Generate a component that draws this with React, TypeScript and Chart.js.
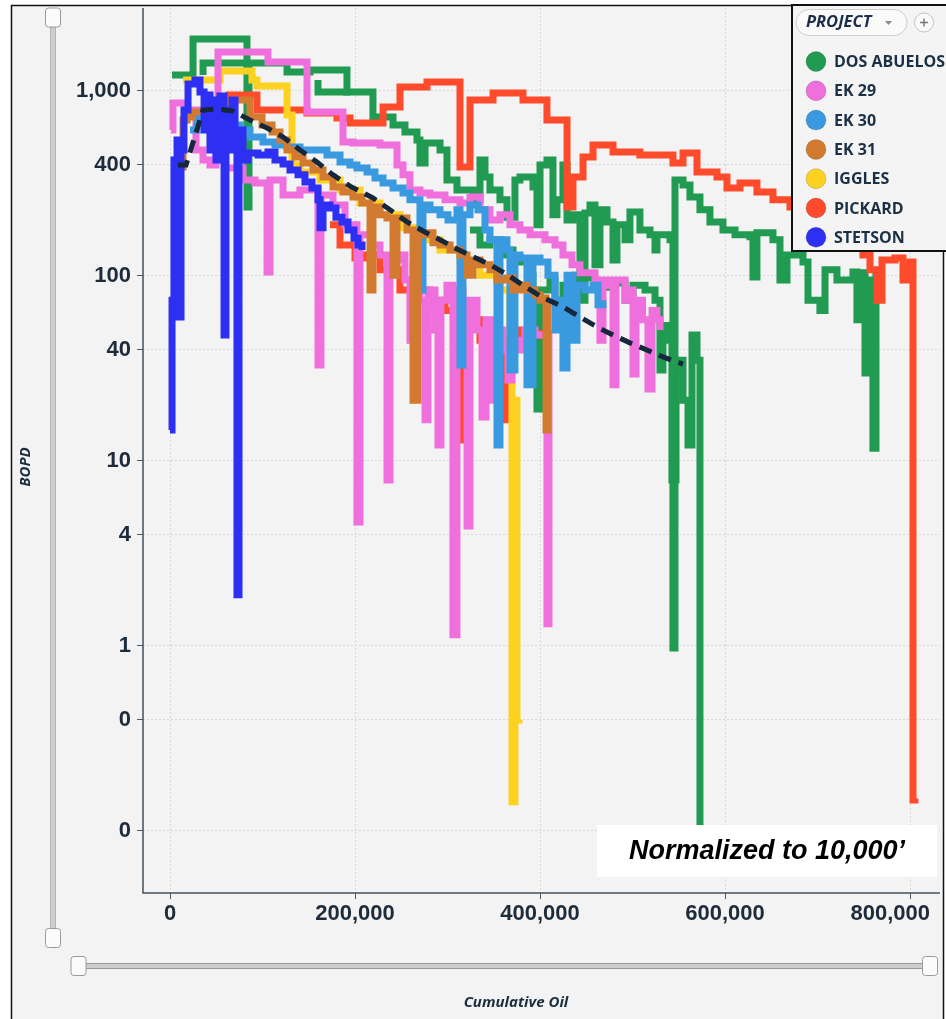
import React, { useEffect, useRef } from 'react';
import { Chart, registerables } from 'chart.js';

Chart.register(...registerables);

const W = 946;
const H = 1019;

const projectNames = ['DOS ABUELOS', 'EK 29', 'EK 30', 'EK 31', 'IGGLES', 'PICKARD', 'STETSON'];
const projectColors = ['#219a52', '#ef6fdd', '#3a9ae0', '#d27b30', '#fcd11f', '#fd4b2b', '#2d30f2'];
const typeCurveColor = '#15273a';
const yTickValues = [0.1, 0.4, 1, 4, 10, 40, 100, 400, 1000];
const xTickValues = [0, 200000, 400000, 600000, 800000];
const xTitle = 'Cumulative Oil';
const yTitle = 'BOPD';
const noteText = 'Normalized to 10,000\u2019';
const legendTitle = 'PROJECT';

// [cumulative oil, BOPD]
const typeCurve = [[8600,398],[17300,398],[35700,789],[51900,799],[68100,779],[86500,697],[104900,631],[122200,564],[140500,480],[158900,413],[176200,352],[194600,306],[219400,264],[237800,228],[256200,196],[273500,175],[291900,157],[310200,140],[327500,127],[345900,115],[364300,102],[381600,89],[400000,78],[424800,68],[443200,60],[461600,53],[478900,48],[497200,43.5],[515600,39.8],[532900,36.5],[554600,33.4]];

const stetson = [[0,14.7],[2200,74],[4300,424],[7600,543],[9700,60],[11900,480],[15100,789],[19500,1091],[27000,1147],[32400,988],[36800,615],[40000,951],[43200,480],[46500,894],[49700,424],[54000,940],[58400,48],[60500,789],[63800,480],[67000,894],[70300,480],[72400,1.89],[74600,615],[78900,424],[84300,462],[95100,451],[105900,468],[113500,424],[122200,403],[129700,374],[138400,352],[145900,322],[153500,299],[160000,258],[162200,182],[165400,242],[173000,233],[179400,208],[185900,196],[192400,177],[198900,160],[203200,147],[207600,138]];

const ek29A = [[1100,615],[3200,861],[17300,789],[28100,480],[35700,424],[43200,398],[49700,480],[51900,1625],[105900,1435],[148100,770],[187000,530],[197800,523],[227000,511],[245400,398],[251900,352],[259400,292],[270200,281],[281100,274],[297300,258],[313500,248],[324300,267],[335100,228],[345900,201],[356700,214],[367500,189],[378300,177],[389200,167],[405400,157],[416200,147],[424800,130],[434600,115],[443200,104],[459400,95],[464800,45],[468100,95],[475600,89],[478900,25.8],[482100,95],[491900,74],[497200,84],[500500,29.5],[503800,74],[510800,58],[516700,24.5],[521100,65],[526400,58],[529700,51]];

const ek29B = [[62700,383],[78900,330],[91900,318],[104900,105],[108100,330],[122200,274],[140500,292],[160000,33],[163200,274],[176200,242],[189200,189],[202100,4.68],[205400,167],[218400,147],[227000,130],[234600,7.9],[237800,122],[248600,130],[254000,95],[259400,45],[262700,115],[270200,74],[275700,16.7],[278900,84],[286500,51],[289700,12.2],[292900,74],[299400,89],[305900,1.15],[310200,84],[316700,65],[321100,4.45],[324300,74],[331900,51],[337300,17.3],[341600,58],[348100,21.3],[352400,51],[360000,39.8],[365400,27.4],[369700,45],[376200,39.8],[383800,51],[394600,48],[407500,1.32],[409700,51]];

const ek30 = [[21600,615],[29200,724],[37800,655],[48600,697],[59500,655],[75700,615],[86500,564],[100500,530],[113500,511],[126500,498],[140500,480],[156700,480],[169700,451],[183800,413],[194600,398],[202100,383],[213000,365],[221600,339],[230300,318],[241100,299],[251900,281],[259400,258],[267000,258],[270200,84],[273500,242],[281100,228],[291900,214],[300500,201],[310200,228],[313500,33],[316700,214],[324300,242],[332900,228],[340500,177],[345900,157],[353500,12.2],[356700,157],[364300,138],[367500,31],[372900,130],[378300,125],[385900,25.8],[392400,125],[400000,119],[408600,101],[416200,51],[421600,74],[424800,31.8],[429200,101],[435600,45],[440000,89],[448600,84],[457300,89],[462700,70],[468100,74]];

const ek31 = [[10800,388],[14100,697],[18400,724],[23800,770],[35700,789],[48600,820],[61600,894],[75700,894],[86500,724],[99500,655],[110300,600],[118900,543],[126500,480],[135100,440],[143800,408],[154600,374],[165400,343],[176200,303],[187000,284],[197800,267],[207600,248],[216200,84],[219400,236],[227000,214],[234600,206],[241100,101],[245400,206],[256200,177],[262700,21.3],[268100,167],[277800,171],[284300,151],[291900,147],[302700,138],[313500,130],[321100,101],[327500,122],[335100,115],[345900,108],[353500,95],[364300,97.6],[370800,84],[378300,89],[385900,84],[394600,79],[400000,74],[403200,76],[406500,14.7],[408600,74]];

const iggles = [[14100,1147],[54000,1283],[88600,1147],[94000,1064],[126500,742],[131900,398],[140500,365],[162200,330],[183800,292],[205400,248],[227000,214],[248600,182],[270200,157],[291900,138],[313500,119],[335100,101],[356700,84],[367500,31],[369700,0.144],[372900,21.3],[375100,0.398],[377300,0.4]];

const pickardA = [[61600,894],[63800,951],[94000,789],[148100,760],[180500,715],[194600,671],[230300,820],[248600,1051],[277800,1119],[313500,388],[324300,894],[349200,975],[381600,894],[407500,697],[429200,236],[435600,343],[446500,440],[457300,511],[478900,468],[508000,451],[543700,408],[554600,462],[569700,365],[591300,343],[602100,299],[616200,318],[634500,284],[651800,258],[670200,236],[691800,214],[713500,189],[735100,167],[749100,130],[756700,108],[764300,74],[769700,122],[783700,125],[792400,95],[800000,119],[803200,0.147],[805300,0.15]];

const pickardB = [[173000,189],[183800,147],[200000,125],[210800,130],[227000,108],[248600,84],[261600,51],[264800,84],[281100,74],[297300,65],[313500,13],[316700,58],[335100,45],[360000,16.7],[365400,45],[378300,51],[392400,48],[400000,51]];

const dosAbuelosA = [[2200,1220],[24900,1910],[83200,236],[85400,1417],[126500,1267],[151300,1300],[191300,988],[219400,724],[241100,655],[254000,600],[267000,543],[270200,408],[275700,523],[291900,480],[299400,330],[310200,292],[327500,258],[335100,424],[340500,343],[345900,292],[356700,258],[364300,208],[372900,330],[378300,343],[392400,303],[396700,189],[400000,398],[407500,424],[414000,214],[418300,258],[424800,398],[429200,201],[435600,214],[443200,74],[448600,219],[454000,242],[459400,115],[464800,228],[472400,196],[478900,122],[483200,189],[491900,157],[497200,222],[508000,177],[518900,167],[524300,138],[526400,167],[540500,157],[543700,0.976],[545900,330],[554600,310],[562100,267],[572900,228],[583700,196],[597800,177],[610800,167],[627000,163],[630200,98.8],[634500,171],[651800,157],[659400,95],[667000,130],[684300,119],[689700,74],[702600,65],[708100,108],[721000,95],[738300,105],[742600,58],[745800,104],[751300,29.9],[754500,95],[759900,11.7],[763200,108]];

const dosAbuelosB = [[324300,177],[335100,147],[345900,157],[356700,130],[364300,138],[370800,127],[378300,119],[387000,101],[392400,84],[396700,19.1],[400000,84],[410800,95],[416200,74],[424800,89],[437800,101],[448600,97.6],[459400,89],[470200,87],[481000,91.7],[491900,74],[500500,89],[513500,84],[524300,74],[529700,31],[532900,54],[538300,45],[542600,7.9],[547000,35],[554600,21.3],[560000,12.2],[564300,48],[569700,35],[572900,0.1],[575000,0.1]];

const dosAbuelosC = [[35700,1220],[35700,1417],[83200,1417]];
const dosAbuelosD = [[160000,1147],[160000,988],[194600,988]];

const tickFamily = '"Liberation Sans", Arial, sans-serif';
const tickSize = 22;
const tickColor = '#1d2b3a';
const uiFamily = '"Open Sans", "Noto Sans", sans-serif';

const seriesDefs = [
  { label: 'Type curve', data: typeCurve, color: typeCurveColor, width: 5, dash: [13, 8], stepped: false },
  { label: 'STETSON', data: stetson, color: projectColors[6] },
  { label: 'EK 31', data: ek31, color: projectColors[3] },
  { label: 'EK 30', data: ek30, color: projectColors[2] },
  { label: 'EK 29', data: ek29A, color: projectColors[1] },
  { label: 'EK 29', data: ek29B, color: projectColors[1] },
  { label: 'IGGLES', data: iggles, color: projectColors[4] },
  { label: 'PICKARD', data: pickardA, color: projectColors[5] },
  { label: 'PICKARD', data: pickardB, color: projectColors[5] },
  { label: 'DOS ABUELOS', data: dosAbuelosA, color: projectColors[0] },
  { label: 'DOS ABUELOS', data: dosAbuelosB, color: projectColors[0] },
  { label: 'DOS ABUELOS', data: dosAbuelosC, color: projectColors[0] },
  { label: 'DOS ABUELOS', data: dosAbuelosD, color: projectColors[0] },
];

function rr(ctx, x, y, w, h, r) {
  ctx.beginPath();
  ctx.moveTo(x + r, y);
  ctx.arcTo(x + w, y, x + w, y + h, r);
  ctx.arcTo(x + w, y + h, x, y + h, r);
  ctx.arcTo(x, y + h, x, y, r);
  ctx.arcTo(x, y, x + w, y, r);
  ctx.closePath();
}

function handle(ctx, cx, cy) {
  rr(ctx, cx - 7.5, cy - 9.5, 15, 19, 3);
  ctx.fillStyle = '#fbfbfb';
  ctx.fill();
  ctx.strokeStyle = '#9a9a9a';
  ctx.lineWidth = 1;
  ctx.stroke();
}

const decorPlugin = {
  id: 'decor',
  beforeDraw(chart) {
    const ctx = chart.ctx;
    ctx.save();
    ctx.fillStyle = '#ffffff';
    ctx.fillRect(0, 0, W, H);
    ctx.fillStyle = '#f3f3f3';
    ctx.fillRect(11, 5, 933, H);
    ctx.strokeStyle = '#111111';
    ctx.lineWidth = 1.5;
    ctx.strokeRect(11.5, 5.5, 932, H + 20);
    ctx.restore();
  },
  beforeDatasetsDraw(chart) {
    const { ctx, chartArea: a } = chart;
    ctx.save();
    ctx.strokeStyle = '#44525c';
    ctx.lineWidth = 1.5;
    ctx.beginPath();
    ctx.moveTo(a.left, a.top);
    ctx.lineTo(a.left, a.bottom);
    ctx.lineTo(a.right, a.bottom);
    ctx.stroke();
    ctx.restore();
  },
  afterDraw(chart) {
    const ctx = chart.ctx;
    const xs = chart.scales.x;
    ctx.save();

    // last x tick label, kept inside the frame
    ctx.font = `bold ${tickSize}px ${tickFamily}`;
    ctx.fillStyle = tickColor;
    ctx.textAlign = 'center';
    ctx.textBaseline = 'middle';
    const lastVal = xTickValues[xTickValues.length - 1];
    const lastLabel = lastVal.toLocaleString('en-US');
    const lw = ctx.measureText(lastLabel).width;
    const lx = Math.min(xs.getPixelForValue(lastVal), 930 - lw / 2);
    ctx.fillText(lastLabel, lx, xs.top + 6 + 2 + tickSize * 0.6);

    // legend
    ctx.fillStyle = '#f4f4f4';
    ctx.fillRect(792, 5, 160, 246);
    ctx.strokeStyle = '#111111';
    ctx.lineWidth = 2;
    ctx.strokeRect(792, 5, 160, 246);
    rr(ctx, 796, 9.5, 111, 26, 13);
    ctx.fillStyle = '#fafafa';
    ctx.fill();
    ctx.strokeStyle = '#cfcfcf';
    ctx.lineWidth = 1;
    ctx.stroke();
    ctx.font = `italic bold 16.5px ${uiFamily}`;
    ctx.fillStyle = '#1b2f4a';
    ctx.textAlign = 'left';
    ctx.textBaseline = 'middle';
    ctx.fillText(legendTitle, 806, 22.5);
    ctx.fillStyle = '#8a8a8a';
    ctx.beginPath();
    ctx.moveTo(885, 21);
    ctx.lineTo(892, 21);
    ctx.lineTo(888.5, 25);
    ctx.closePath();
    ctx.fill();
    ctx.beginPath();
    ctx.arc(924, 22.5, 9.5, 0, Math.PI * 2);
    ctx.fillStyle = '#fafafa';
    ctx.fill();
    ctx.strokeStyle = '#c4c4c4';
    ctx.stroke();
    ctx.strokeStyle = '#7a7a7a';
    ctx.lineWidth = 1.5;
    ctx.beginPath();
    ctx.moveTo(920, 22.5);
    ctx.lineTo(928, 22.5);
    ctx.moveTo(924, 18.5);
    ctx.lineTo(924, 26.5);
    ctx.stroke();
    ctx.font = `bold 16px ${uiFamily}`;
    projectNames.forEach((name, i) => {
      const cy = 61.5 + i * 29.3;
      ctx.beginPath();
      ctx.arc(816, cy, 10, 0, Math.PI * 2);
      ctx.fillStyle = projectColors[i];
      ctx.fill();
      ctx.strokeStyle = 'rgba(0,0,0,0.15)';
      ctx.lineWidth = 1;
      ctx.stroke();
      ctx.fillStyle = '#1b3045';
      ctx.fillText(name, 834, cy + 1);
    });

    // annotation box
    ctx.fillStyle = '#ffffff';
    ctx.fillRect(597, 825, 340, 52);
    ctx.fillStyle = '#000000';
    ctx.font = 'italic bold 27px "Liberation Sans", Arial, sans-serif';
    ctx.textAlign = 'center';
    ctx.fillText(noteText, 767, 852);

    // sliders
    ctx.fillStyle = '#cdcdcd';
    ctx.fillRect(50, 26, 6, 904);
    ctx.strokeStyle = '#b5b5b5';
    ctx.lineWidth = 1;
    ctx.strokeRect(50.5, 26.5, 5, 903);
    handle(ctx, 53, 17.5);
    handle(ctx, 53, 938);
    ctx.fillStyle = '#cdcdcd';
    ctx.fillRect(80, 963, 850, 6);
    ctx.strokeRect(80.5, 963.5, 849, 5);
    handle(ctx, 78.5, 966);
    handle(ctx, 930, 966);

    // axis titles
    ctx.fillStyle = '#1b2d3e';
    ctx.font = `italic bold 15px ${uiFamily}`;
    ctx.textAlign = 'center';
    ctx.fillText(xTitle, 516, 1003);
    ctx.translate(26, 467);
    ctx.rotate(-Math.PI / 2);
    ctx.font = `italic bold 15px ${uiFamily}`;
    ctx.fillText(yTitle, 0, 0);
    ctx.restore();
  },
};

export default function App() {
  const ref = useRef(null);
  useEffect(() => {
    const datasets = seriesDefs.map((s, i) => ({
      label: s.label,
      data: s.data.map(([x, y]) => ({ x, y })),
      borderColor: s.color,
      backgroundColor: s.color,
      borderWidth: s.width || 7,
      borderDash: s.dash || [],
      borderCapStyle: 'butt',
      borderJoinStyle: 'miter',
      stepped: s.stepped === false ? false : 'before',
      pointRadius: 0,
      pointHoverRadius: 0,
      fill: false,
      tension: 0,
      order: i,
    }));
    const chart = new Chart(ref.current, {
      type: 'line',
      data: { datasets },
      options: {
        responsive: false,
        animation: false,
        devicePixelRatio: 1,
        events: [],
        layout: { padding: { left: 0, top: 8, right: 6, bottom: 0 } },
        plugins: { legend: { display: false }, tooltip: { enabled: false } },
        scales: {
          x: {
            type: 'linear',
            min: -29190,
            max: 832400,
            afterBuildTicks: (s) => { s.ticks = xTickValues.map((v) => ({ value: v })); },
            afterFit: (s) => { s.height = 126; s.paddingLeft = 0; s.paddingRight = 0; },
            ticks: {
              autoSkip: false,
              maxRotation: 0,
              minRotation: 0,
              padding: 2,
              callback: (v) => Number(v).toLocaleString('en-US'),
              color: (c) => (c.index === xTickValues.length - 1 ? 'rgba(0,0,0,0)' : tickColor),
              font: { family: tickFamily, size: tickSize, weight: 'bold' },
            },
            grid: { color: '#d9d9d9', lineWidth: 1, tickLength: 6, tickColor: '#4a5a66', tickWidth: 1 },
            border: { display: false, dash: [2, 2] },
          },
          y: {
            type: 'logarithmic',
            min: 0.0462,
            max: 2809,
            afterBuildTicks: (s) => { s.ticks = yTickValues.map((v) => ({ value: v })); },
            afterFit: (s) => { s.width = 143; s.paddingTop = 0; s.paddingBottom = 0; },
            ticks: {
              autoSkip: false,
              padding: 6,
              callback: (v) => Math.round(Number(v)).toLocaleString('en-US'),
              color: tickColor,
              font: { family: tickFamily, size: tickSize, weight: 'bold' },
            },
            grid: { color: '#d9d9d9', lineWidth: 1, tickLength: 6, tickColor: '#4a5a66', tickWidth: 1 },
            border: { display: false, dash: [2, 2] },
          },
        },
      },
      plugins: [decorPlugin],
    });
    return () => chart.destroy();
  }, []);
  return (
    <div style={{ position: 'fixed', left: 0, top: 0, width: W, height: H, background: '#ffffff' }}>
      <canvas ref={ref} width={W} height={H} style={{ display: 'block', width: W, height: H }} />
    </div>
  );
}
